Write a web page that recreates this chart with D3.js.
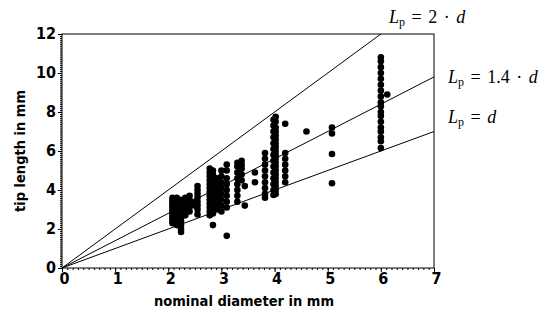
<!DOCTYPE html>
<html>
<head>
<meta charset="utf-8">
<script src="https://cdn.jsdelivr.net/npm/d3@7"></script>
<style>
  body { margin: 0; background: #fff; }
  .tick text { font-family: "DejaVu Sans Condensed", "DejaVu Sans", sans-serif; font-weight: bold; font-size: 16px; }
  .axis-title { font-family: "DejaVu Sans Condensed", "DejaVu Sans", sans-serif; font-weight: bold; font-size: 14.5px; }
  .eq { font-family: "Liberation Serif", "Times New Roman", serif; font-size: 18px; word-spacing: 2px; }
</style>
</head>
<body>
<div id="chart"></div>
<script>
// nominal diameters (mm) and the tip lengths (mm) measured at each
var diameters = [2.08, 2.16, 2.24, 2.32, 2.4, 2.5, 2.55, 2.78, 2.84, 2.92, 3.0, 3.1, 3.3, 3.38, 3.44, 3.63, 3.82, 3.98, 4.02, 4.2, 4.6, 5.08, 6.0, 6.12];
var tipLengths = [
  [3.6, 3.5, 3.4, 3.3, 3.2, 3.1, 3.0, 2.9, 2.8, 2.7, 2.6, 2.5, 2.4, 2.3],
  [3.6, 3.5, 3.4, 3.3, 3.2, 3.1, 3.0, 2.9, 2.8, 2.7, 2.6, 2.5, 2.4, 2.3, 2.2],
  [3.5, 3.4, 3.2, 3.0, 2.8, 2.6, 2.4, 2.2, 2.0, 1.85],
  [3.6, 3.3, 3.0, 2.7],
  [3.7, 3.5, 3.3, 3.1, 2.9],
  [3.4, 3.2],
  [4.2, 4.0, 3.8, 3.6, 3.4, 3.2, 3.0, 2.75],
  [5.1, 4.9, 4.7, 4.5, 4.3, 4.1, 3.9, 3.7, 3.5, 3.3, 3.1, 2.9, 2.7],
  [5.0, 4.8, 4.6, 4.4, 4.2, 4.0, 3.8, 3.6, 3.4, 3.2, 3.0, 2.8, 2.2],
  [4.6, 4.4, 4.2, 4.0, 3.8, 3.6, 3.4, 3.2, 3.0],
  [5.0, 4.7, 4.4, 4.1, 3.8, 3.5, 3.2, 2.9],
  [5.3, 5.0, 4.6, 4.3, 4.0, 3.7, 3.4, 3.1, 1.65],
  [5.4, 5.2, 4.9, 4.6, 4.3, 4.0, 3.7, 3.4],
  [5.5, 5.3, 5.1, 4.8, 4.5],
  [4.2, 3.2],
  [4.9, 4.4],
  [5.9, 5.6, 5.3, 5.0, 4.7, 4.4, 4.1, 3.8, 3.6],
  [7.6, 7.3, 7.0, 6.7, 6.4, 6.1, 5.8, 5.5, 5.2, 4.9, 4.6, 4.3, 4.0, 3.75],
  [7.75, 7.5, 7.2, 7.0, 6.8, 6.6, 6.4, 6.2, 6.0, 5.8, 5.6, 5.4, 5.2, 5.0, 4.8, 4.6, 4.4, 4.2, 4.0, 3.8],
  [7.4, 5.9, 5.6, 5.3, 5.0, 4.7, 4.4],
  [7.0],
  [7.2, 6.9, 5.85, 4.35],
  [10.8, 10.6, 10.3, 10.0, 9.7, 9.4, 9.1, 8.8, 8.5, 8.3, 8.0, 7.8, 7.5, 7.2, 7.0, 6.7, 6.5, 6.15],
  [8.9]
];
// reference lines L_p = k * d
var factors = [2, 1.4, 1];
var xTicks = [0, 1, 2, 3, 4, 5, 6, 7];
var yTicks = [0, 2, 4, 6, 8, 10, 12];

var W = 553, H = 316;
var margin = { left: 62, top: 34, right: 119, bottom: 48 };
var width = W - margin.left - margin.right,
    height = H - margin.top - margin.bottom;

var svg = d3.select("#chart")
  .append("svg")
    .attr("width", W)
    .attr("height", H)
  .append("g")
    .attr("transform", "translate(" + margin.left + "," + margin.top + ")");

var x = d3.scaleLinear().domain([0, 7]).range([0, width]);
var y = d3.scaleLinear().domain([0, 12]).range([height, 0]);

// minor ticks every 0.1
svg.append("g")
  .attr("transform", "translate(0," + height + ")")
  .call(d3.axisBottom(x).tickValues(d3.range(0, 71).map(d => d / 10)).tickSize(2).tickFormat(""))
  .call(g => g.select(".domain").remove());
svg.append("g")
  .call(d3.axisLeft(y).tickValues(d3.range(0, 121).map(d => d / 10)).tickSize(2).tickFormat(""))
  .call(g => g.select(".domain").remove());

// major ticks
svg.append("g")
  .attr("transform", "translate(0," + height + ")")
  .call(d3.axisBottom(x).tickValues(xTicks).tickFormat(d3.format("d")).tickSize(4).tickSizeOuter(0).tickPadding(1))
  .call(g => g.select(".domain").remove())
  .call(g => g.selectAll(".tick text").attr("dx", 2));
svg.append("g")
  .call(d3.axisLeft(y).tickValues(yTicks).tickFormat(d3.format("d")).tickSize(4).tickSizeOuter(0).tickPadding(2))
  .call(g => g.select(".domain").remove())
  .call(g => g.selectAll(".tick text").attr("dy", "0.3em"));

// frame
svg.append("rect")
  .attr("width", width)
  .attr("height", height)
  .attr("fill", "none")
  .attr("stroke", "#000")
  .attr("stroke-width", 1);

// reference lines clipped to the frame
svg.append("clipPath").attr("id", "clip")
  .append("rect").attr("width", width).attr("height", height);

svg.append("g")
  .attr("clip-path", "url(#clip)")
  .selectAll("line")
  .data(factors)
  .enter()
    .append("line")
    .attr("x1", x(0))
    .attr("y1", y(0))
    .attr("x2", x(7))
    .attr("y2", d => y(7 * d))
    .attr("stroke", "#000")
    .attr("stroke-width", 1);

// points
var points = [];
diameters.forEach((d, i) => tipLengths[i].forEach(l => points.push({ d: d, l: l })));

svg.append("g")
  .selectAll("circle")
  .data(points)
  .enter()
    .append("circle")
    .attr("cx", d => x(d.d))
    .attr("cy", d => y(d.l))
    .attr("r", 3.3)
    .attr("fill", "#000");

// axis titles
svg.append("text")
  .attr("class", "axis-title")
  .attr("x", 182)
  .attr("y", height + 38)
  .style("text-anchor", "middle")
  .text("nominal diameter in mm");

svg.append("text")
  .attr("class", "axis-title")
  .attr("transform", "translate(-37," + (height / 2) + ") rotate(-90)")
  .style("text-anchor", "middle")
  .text("tip length in mm");

// equation labels
function eq(px, py, rhs) {
  var t = svg.append("text").attr("class", "eq").attr("x", px).attr("y", py);
  t.append("tspan").style("font-style", "italic").text("L");
  t.append("tspan").attr("font-size", "12px").attr("dy", 3).text("p");
  t.append("tspan").attr("dy", -3).text(" = ");
  rhs.forEach(r => t.append("tspan").style("font-style", r.it ? "italic" : "normal").text(r.s));
}
eq(327, -11, [{ s: "2 \u00b7 " }, { s: "d", it: true }]);
eq(386, 49, [{ s: "1.4 \u00b7 " }, { s: "d", it: true }]);
eq(386, 89, [{ s: "d", it: true }]);
</script>
</body>
</html>
